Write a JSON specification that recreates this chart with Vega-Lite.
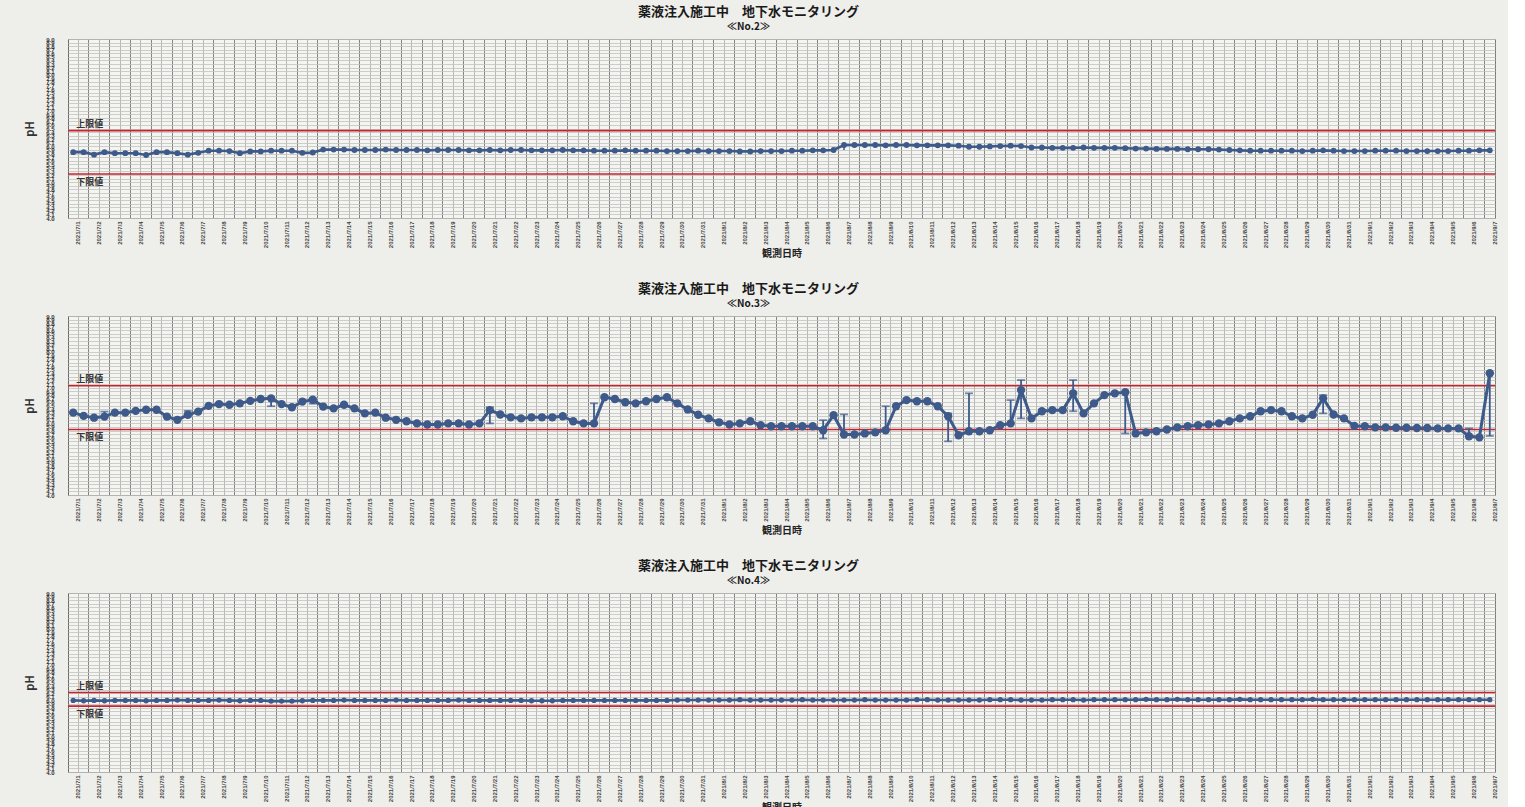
{
"$schema":"https://vega.github.io/schema/vega-lite/v6.json",
"padding":{"left":24,"top":5,"right":10,"bottom":0},
"spacing":22,
"datasets":{
"limits":[
{"p":"No.2","k":"上限値","v":6.44},{"p":"No.2","k":"下限値","v":5.23},
{"p":"No.3","k":"上限値","v":7.05},{"p":"No.3","k":"下限値","v":5.83},
{"p":"No.4","k":"上限値","v":6.22},{"p":"No.4","k":"下限値","v":5.84}],
"obs":[
{"t":"2021/7/1 9:00","a":5.84,"b":6.30,"c":6.00},
{"t":"2021/7/1 15:00","a":5.84,"b":6.21,"c":5.99},
{"t":"2021/7/2 9:00","a":5.77,"b":6.16,"c":6.00},
{"t":"2021/7/2 15:00","a":5.84,"b":6.19,"c":5.99,"bl":6.16,"bh":6.33},
{"t":"2021/7/3 9:00","a":5.81,"b":6.30,"c":6.00},
{"t":"2021/7/3 15:00","a":5.81,"b":6.30,"c":6.00},
{"t":"2021/7/4 9:00","a":5.81,"b":6.35,"c":6.00},
{"t":"2021/7/4 15:00","a":5.76,"b":6.38,"c":5.99},
{"t":"2021/7/5 9:00","a":5.84,"b":6.38,"c":6.00},
{"t":"2021/7/5 15:00","a":5.84,"b":6.19,"c":6.00},
{"t":"2021/7/6 9:00","a":5.81,"b":6.10,"c":6.01},
{"t":"2021/7/6 15:00","a":5.77,"b":6.24,"c":6.00,"bl":6.19,"bh":6.35},
{"t":"2021/7/7 9:00","a":5.82,"b":6.33,"c":6.00},
{"t":"2021/7/7 15:00","a":5.88,"b":6.49,"c":6.00},
{"t":"2021/7/8 9:00","a":5.88,"b":6.54,"c":6.01},
{"t":"2021/7/8 15:00","a":5.87,"b":6.52,"c":6.00},
{"t":"2021/7/9 9:00","a":5.81,"b":6.56,"c":5.99},
{"t":"2021/7/9 15:00","a":5.86,"b":6.63,"c":6.00},
{"t":"2021/7/10 9:00","a":5.86,"b":6.68,"c":6.00},
{"t":"2021/7/10 15:00","a":5.88,"b":6.70,"c":5.98,"bl":6.48,"bh":6.72},
{"t":"2021/7/11 9:00","a":5.88,"b":6.54,"c":5.98},
{"t":"2021/7/11 15:00","a":5.88,"b":6.45,"c":5.98},
{"t":"2021/7/12 9:00","a":5.82,"b":6.61,"c":5.99},
{"t":"2021/7/12 15:00","a":5.83,"b":6.66,"c":6.00,"bl":6.55,"bh":6.70},
{"t":"2021/7/13 9:00","a":5.91,"b":6.47,"c":6.00},
{"t":"2021/7/13 15:00","a":5.91,"b":6.42,"c":6.00},
{"t":"2021/7/14 9:00","a":5.91,"b":6.52,"c":6.01},
{"t":"2021/7/14 15:00","a":5.90,"b":6.42,"c":6.00},
{"t":"2021/7/15 9:00","a":5.90,"b":6.28,"c":6.00},
{"t":"2021/7/15 15:00","a":5.90,"b":6.30,"c":6.00},
{"t":"2021/7/16 9:00","a":5.91,"b":6.16,"c":6.00},
{"t":"2021/7/16 15:00","a":5.90,"b":6.10,"c":6.01},
{"t":"2021/7/17 9:00","a":5.90,"b":6.06,"c":6.00},
{"t":"2021/7/17 15:00","a":5.90,"b":6.00,"c":6.00},
{"t":"2021/7/18 9:00","a":5.89,"b":5.97,"c":6.00},
{"t":"2021/7/18 15:00","a":5.90,"b":5.97,"c":6.00},
{"t":"2021/7/19 9:00","a":5.90,"b":6.00,"c":6.00},
{"t":"2021/7/19 15:00","a":5.90,"b":6.00,"c":6.01},
{"t":"2021/7/20 9:00","a":5.89,"b":5.97,"c":6.00},
{"t":"2021/7/20 15:00","a":5.89,"b":6.00,"c":6.00},
{"t":"2021/7/21 9:00","a":5.90,"b":6.37,"c":6.00,"bl":6.00,"bh":6.45},
{"t":"2021/7/21 15:00","a":5.89,"b":6.25,"c":6.00},
{"t":"2021/7/22 9:00","a":5.90,"b":6.17,"c":6.00},
{"t":"2021/7/22 15:00","a":5.90,"b":6.14,"c":6.00},
{"t":"2021/7/23 9:00","a":5.89,"b":6.17,"c":5.99},
{"t":"2021/7/23 15:00","a":5.89,"b":6.17,"c":5.99},
{"t":"2021/7/24 9:00","a":5.89,"b":6.17,"c":5.99},
{"t":"2021/7/24 15:00","a":5.90,"b":6.20,"c":6.00},
{"t":"2021/7/25 9:00","a":5.89,"b":6.06,"c":6.00},
{"t":"2021/7/25 15:00","a":5.89,"b":6.00,"c":6.00},
{"t":"2021/7/26 9:00","a":5.88,"b":6.00,"c":6.00,"bl":6.00,"bh":6.56},
{"t":"2021/7/26 15:00","a":5.88,"b":6.73,"c":6.00},
{"t":"2021/7/27 9:00","a":5.88,"b":6.68,"c":6.00},
{"t":"2021/7/27 15:00","a":5.89,"b":6.59,"c":6.00},
{"t":"2021/7/28 9:00","a":5.88,"b":6.56,"c":6.00},
{"t":"2021/7/28 15:00","a":5.88,"b":6.62,"c":6.00},
{"t":"2021/7/29 9:00","a":5.88,"b":6.68,"c":6.00},
{"t":"2021/7/29 15:00","a":5.87,"b":6.73,"c":6.00},
{"t":"2021/7/30 9:00","a":5.87,"b":6.56,"c":6.01},
{"t":"2021/7/30 15:00","a":5.87,"b":6.39,"c":6.01},
{"t":"2021/7/31 9:00","a":5.88,"b":6.24,"c":6.01},
{"t":"2021/7/31 15:00","a":5.87,"b":6.14,"c":6.01},
{"t":"2021/8/1 9:00","a":5.87,"b":6.03,"c":6.01},
{"t":"2021/8/1 15:00","a":5.87,"b":5.97,"c":6.01},
{"t":"2021/8/2 9:00","a":5.86,"b":6.00,"c":6.02},
{"t":"2021/8/2 15:00","a":5.86,"b":6.06,"c":6.01},
{"t":"2021/8/3 9:00","a":5.87,"b":5.95,"c":6.01},
{"t":"2021/8/3 15:00","a":5.87,"b":5.92,"c":6.01},
{"t":"2021/8/4 9:00","a":5.87,"b":5.92,"c":6.01},
{"t":"2021/8/4 15:00","a":5.88,"b":5.92,"c":6.01},
{"t":"2021/8/5 9:00","a":5.88,"b":5.92,"c":6.02},
{"t":"2021/8/5 15:00","a":5.89,"b":5.92,"c":6.01},
{"t":"2021/8/6 9:00","a":5.89,"b":5.81,"c":6.01,"bl":5.58,"bh":6.09},
{"t":"2021/8/6 15:00","a":5.90,"b":6.23,"c":6.01},
{"t":"2021/8/7 9:00","a":6.04,"b":5.69,"c":6.01,"al":5.90,"ah":6.04,"bl":5.69,"bh":6.25},
{"t":"2021/8/7 15:00","a":6.04,"b":5.69,"c":6.01},
{"t":"2021/8/8 9:00","a":6.04,"b":5.72,"c":6.02},
{"t":"2021/8/8 15:00","a":6.04,"b":5.75,"c":6.01},
{"t":"2021/8/9 9:00","a":6.03,"b":5.81,"c":6.01,"bl":5.81,"bh":6.48},
{"t":"2021/8/9 15:00","a":6.04,"b":6.48,"c":6.01},
{"t":"2021/8/10 9:00","a":6.04,"b":6.65,"c":6.01},
{"t":"2021/8/10 15:00","a":6.03,"b":6.62,"c":6.02},
{"t":"2021/8/11 9:00","a":6.03,"b":6.62,"c":6.02},
{"t":"2021/8/11 15:00","a":6.03,"b":6.48,"c":6.01},
{"t":"2021/8/12 9:00","a":6.03,"b":6.20,"c":6.01,"bl":5.50,"bh":6.28},
{"t":"2021/8/12 15:00","a":6.02,"b":5.67,"c":6.01},
{"t":"2021/8/13 9:00","a":5.99,"b":5.78,"c":6.01,"bl":5.78,"bh":6.84},
{"t":"2021/8/13 15:00","a":5.99,"b":5.78,"c":6.01},
{"t":"2021/8/14 9:00","a":6.00,"b":5.81,"c":6.02},
{"t":"2021/8/14 15:00","a":6.01,"b":5.95,"c":6.02},
{"t":"2021/8/15 9:00","a":6.02,"b":6.00,"c":6.02,"bl":6.00,"bh":6.65},
{"t":"2021/8/15 15:00","a":6.01,"b":6.93,"c":6.01,"bl":6.14,"bh":7.21},
{"t":"2021/8/16 9:00","a":5.97,"b":6.14,"c":6.01},
{"t":"2021/8/16 15:00","a":5.97,"b":6.34,"c":6.01},
{"t":"2021/8/17 9:00","a":5.96,"b":6.37,"c":6.02},
{"t":"2021/8/17 15:00","a":5.96,"b":6.37,"c":6.02},
{"t":"2021/8/18 9:00","a":5.96,"b":6.84,"c":6.02,"bl":6.34,"bh":7.21},
{"t":"2021/8/18 15:00","a":5.97,"b":6.28,"c":6.01},
{"t":"2021/8/19 9:00","a":5.96,"b":6.56,"c":6.02},
{"t":"2021/8/19 15:00","a":5.96,"b":6.79,"c":6.02},
{"t":"2021/8/20 9:00","a":5.96,"b":6.84,"c":6.02},
{"t":"2021/8/20 15:00","a":5.95,"b":6.87,"c":6.02,"bl":5.72,"bh":6.87},
{"t":"2021/8/21 9:00","a":5.94,"b":5.72,"c":6.02},
{"t":"2021/8/21 15:00","a":5.94,"b":5.75,"c":6.03},
{"t":"2021/8/22 9:00","a":5.93,"b":5.78,"c":6.02},
{"t":"2021/8/22 15:00","a":5.93,"b":5.83,"c":6.02},
{"t":"2021/8/23 9:00","a":5.93,"b":5.89,"c":6.03},
{"t":"2021/8/23 15:00","a":5.92,"b":5.92,"c":6.02},
{"t":"2021/8/24 9:00","a":5.92,"b":5.95,"c":6.02},
{"t":"2021/8/24 15:00","a":5.92,"b":5.97,"c":6.02},
{"t":"2021/8/25 9:00","a":5.91,"b":6.00,"c":6.02},
{"t":"2021/8/25 15:00","a":5.90,"b":6.06,"c":6.02},
{"t":"2021/8/26 9:00","a":5.89,"b":6.14,"c":6.03},
{"t":"2021/8/26 15:00","a":5.88,"b":6.20,"c":6.02},
{"t":"2021/8/27 9:00","a":5.88,"b":6.34,"c":6.02},
{"t":"2021/8/27 15:00","a":5.88,"b":6.37,"c":6.02},
{"t":"2021/8/28 9:00","a":5.88,"b":6.34,"c":6.02},
{"t":"2021/8/28 15:00","a":5.88,"b":6.20,"c":6.02},
{"t":"2021/8/29 9:00","a":5.87,"b":6.14,"c":6.02},
{"t":"2021/8/29 15:00","a":5.88,"b":6.24,"c":6.03},
{"t":"2021/8/30 9:00","a":5.89,"b":6.70,"c":6.02,"bl":6.28,"bh":6.79},
{"t":"2021/8/30 15:00","a":5.88,"b":6.25,"c":6.02},
{"t":"2021/8/31 9:00","a":5.87,"b":6.14,"c":6.02},
{"t":"2021/8/31 15:00","a":5.87,"b":5.93,"c":6.02},
{"t":"2021/9/1 9:00","a":5.87,"b":5.92,"c":6.02},
{"t":"2021/9/1 15:00","a":5.88,"b":5.89,"c":6.02},
{"t":"2021/9/2 9:00","a":5.88,"b":5.89,"c":6.02},
{"t":"2021/9/2 15:00","a":5.88,"b":5.88,"c":6.02},
{"t":"2021/9/3 9:00","a":5.87,"b":5.88,"c":6.02},
{"t":"2021/9/3 15:00","a":5.87,"b":5.87,"c":6.02},
{"t":"2021/9/4 9:00","a":5.87,"b":5.87,"c":6.02},
{"t":"2021/9/4 15:00","a":5.87,"b":5.86,"c":6.02},
{"t":"2021/9/5 9:00","a":5.87,"b":5.86,"c":6.02},
{"t":"2021/9/5 15:00","a":5.88,"b":5.86,"c":6.02},
{"t":"2021/9/6 9:00","a":5.88,"b":5.64,"c":6.02,"bl":5.64,"bh":5.86},
{"t":"2021/9/6 15:00","a":5.89,"b":5.61,"c":6.02},
{"t":"2021/9/7 9:00","a":5.89,"b":7.40,"c":6.02,"bl":5.65,"bh":7.40}
]},
"vconcat":[
{"width":1427,"height":179,"data":{"name":"obs"},
"title":{"text":"薬液注入施工中　地下水モニタリング","subtitle":"≪No.2≫"},
"layer":[
{"data":{"name":"limits"},"transform":[{"filter":"datum.p==='No.2'"}],"mark":{"type":"rule","color":"#c8232c","strokeWidth":1.6},
 "encoding":{"y":{"field":"v","type":"quantitative","title":"pH","scale":{"domain":[4,9]},"axis":{"tickCount":50,"format":".1f"}}}},
{"mark":{"type":"line","color":"#3d5a8a","strokeWidth":2.6,"point":{"filled":true,"size":34,"color":"#3d5a8a"}},
 "encoding":{"x":{"field":"t","type":"ordinal","sort":null,"title":"観測日時","scale":{"type":"band","paddingInner":0,"paddingOuter":0},
   "axis":{"grid":true,"bandPosition":0,"labelOffset":5,"labelAngle":-90,"labelOverlap":false,"ticks":false,"domain":false,
     "gridColor":{"condition":{"test":"indexof(datum.value,' 9:')>=0","value":"#666666"},"value":"#a8a8a8"},
     "labelExpr":"indexof(datum.label,' 9:')>=0 ? slice(datum.label,0,indexof(datum.label,' ')) : ''"}},
  "y":{"field":"a","type":"quantitative","title":"pH"}}},
{"transform":[{"filter":"isValid(datum.al)"}],"mark":{"type":"rule","color":"#3d5a8a","strokeWidth":1.5},
 "encoding":{"x":{"field":"t","type":"ordinal","sort":null},"y":{"field":"al","type":"quantitative","title":"pH"},"y2":{"field":"ah"}}},
{"data":{"name":"limits"},"transform":[{"filter":"datum.p==='No.2' && datum.k==='上限値'"}],"mark":{"type":"text","align":"left","baseline":"bottom","dy":-2,"dx":3,"fontSize":9,"fontWeight":"bold","color":"#333"},
 "encoding":{"x":{"datum":"2021/7/1 9:00","type":"ordinal"},"y":{"field":"v","type":"quantitative","title":"pH"},"text":{"field":"k"}}},
{"data":{"name":"limits"},"transform":[{"filter":"datum.p==='No.2' && datum.k==='下限値'"}],"mark":{"type":"text","align":"left","baseline":"top","dy":4,"dx":3,"fontSize":9,"fontWeight":"bold","color":"#333"},
 "encoding":{"x":{"datum":"2021/7/1 9:00","type":"ordinal"},"y":{"field":"v","type":"quantitative","title":"pH"},"text":{"field":"k"}}}
]},
{"width":1427,"height":179,"data":{"name":"obs"},
"title":{"text":"薬液注入施工中　地下水モニタリング","subtitle":"≪No.3≫"},
"layer":[
{"data":{"name":"limits"},"transform":[{"filter":"datum.p==='No.3'"}],"mark":{"type":"rule","color":"#c8232c","strokeWidth":1.6},
 "encoding":{"y":{"field":"v","type":"quantitative","title":"pH","scale":{"domain":[4,9]},"axis":{"tickCount":50,"format":".1f"}}}},
{"mark":{"type":"line","color":"#3d5a8a","strokeWidth":3,"point":{"filled":true,"size":70,"color":"#3d5a8a"}},
 "encoding":{"x":{"field":"t","type":"ordinal","sort":null,"title":"観測日時","scale":{"type":"band","paddingInner":0,"paddingOuter":0},
   "axis":{"grid":true,"bandPosition":0,"labelOffset":5,"labelAngle":-90,"labelOverlap":false,"ticks":false,"domain":false,
     "gridColor":{"condition":{"test":"indexof(datum.value,' 9:')>=0","value":"#666666"},"value":"#a8a8a8"},
     "labelExpr":"indexof(datum.label,' 9:')>=0 ? slice(datum.label,0,indexof(datum.label,' ')) : ''"}},
  "y":{"field":"b","type":"quantitative","title":"pH"}}},
{"transform":[{"filter":"isValid(datum.bl)"}],"mark":{"type":"rule","color":"#3d5a8a","strokeWidth":1.8},
 "encoding":{"x":{"field":"t","type":"ordinal","sort":null},"y":{"field":"bl","type":"quantitative","title":"pH"},"y2":{"field":"bh"}}},
{"transform":[{"filter":"isValid(datum.bl)"}],"mark":{"type":"tick","color":"#3d5a8a","thickness":1.8,"size":8},
 "encoding":{"x":{"field":"t","type":"ordinal","sort":null},"y":{"field":"bl","type":"quantitative","title":"pH"}}},
{"transform":[{"filter":"isValid(datum.bl)"}],"mark":{"type":"tick","color":"#3d5a8a","thickness":1.8,"size":8},
 "encoding":{"x":{"field":"t","type":"ordinal","sort":null},"y":{"field":"bh","type":"quantitative","title":"pH"}}},
{"data":{"name":"limits"},"transform":[{"filter":"datum.p==='No.3' && datum.k==='上限値'"}],"mark":{"type":"text","align":"left","baseline":"bottom","dy":-2,"dx":3,"fontSize":9,"fontWeight":"bold","color":"#333"},
 "encoding":{"x":{"datum":"2021/7/1 9:00","type":"ordinal"},"y":{"field":"v","type":"quantitative","title":"pH"},"text":{"field":"k"}}},
{"data":{"name":"limits"},"transform":[{"filter":"datum.p==='No.3' && datum.k==='下限値'"}],"mark":{"type":"text","align":"left","baseline":"top","dy":4,"dx":3,"fontSize":9,"fontWeight":"bold","color":"#333"},
 "encoding":{"x":{"datum":"2021/7/1 9:00","type":"ordinal"},"y":{"field":"v","type":"quantitative","title":"pH"},"text":{"field":"k"}}}
]},
{"width":1427,"height":179,"data":{"name":"obs"},
"title":{"text":"薬液注入施工中　地下水モニタリング","subtitle":"≪No.4≫"},
"layer":[
{"data":{"name":"limits"},"transform":[{"filter":"datum.p==='No.4'"}],"mark":{"type":"rule","color":"#c8232c","strokeWidth":1.6},
 "encoding":{"y":{"field":"v","type":"quantitative","title":"pH","scale":{"domain":[4,9]},"axis":{"tickCount":50,"format":".1f"}}}},
{"mark":{"type":"line","color":"#3d5a8a","strokeWidth":2.6,"point":{"filled":true,"size":28,"color":"#3d5a8a"}},
 "encoding":{"x":{"field":"t","type":"ordinal","sort":null,"title":"観測日時","scale":{"type":"band","paddingInner":0,"paddingOuter":0},
   "axis":{"grid":true,"bandPosition":0,"labelOffset":5,"labelAngle":-90,"labelOverlap":false,"ticks":false,"domain":false,
     "gridColor":{"condition":{"test":"indexof(datum.value,' 9:')>=0","value":"#666666"},"value":"#a8a8a8"},
     "labelExpr":"indexof(datum.label,' 9:')>=0 ? slice(datum.label,0,indexof(datum.label,' ')) : ''"}},
  "y":{"field":"c","type":"quantitative","title":"pH"}}},
{"data":{"name":"limits"},"transform":[{"filter":"datum.p==='No.4' && datum.k==='上限値'"}],"mark":{"type":"text","align":"left","baseline":"bottom","dy":-2,"dx":3,"fontSize":9,"fontWeight":"bold","color":"#333"},
 "encoding":{"x":{"datum":"2021/7/1 9:00","type":"ordinal"},"y":{"field":"v","type":"quantitative","title":"pH"},"text":{"field":"k"}}},
{"data":{"name":"limits"},"transform":[{"filter":"datum.p==='No.4' && datum.k==='下限値'"}],"mark":{"type":"text","align":"left","baseline":"top","dy":4,"dx":3,"fontSize":9,"fontWeight":"bold","color":"#333"},
 "encoding":{"x":{"datum":"2021/7/1 9:00","type":"ordinal"},"y":{"field":"v","type":"quantitative","title":"pH"},"text":{"field":"k"}}}
]}
],
"config":{
"background":"#eeeeeb",
"font":"Noto Sans CJK JP",
"view":{"stroke":"#7a7a7a","strokeWidth":1,"fill":"#f4f4f1"},
"title":{"fontSize":13,"fontWeight":"bold","color":"#1a1a1a","subtitleFontSize":10,"subtitleFontWeight":"bold","subtitleColor":"#1a1a1a","subtitlePadding":0,"offset":4,"anchor":"middle","dx":-33},
"axisY":{"gridColor":"#c2c2c2","gridWidth":0.8,"labelFontSize":6,"labelFont":"Liberation Sans","labelFontWeight":"bold","labelColor":"#333","labelOverlap":false,"ticks":false,"domain":false,"labelPadding":14,"titlePadding":10,"titleFontSize":11,"titleFontWeight":"bold","titleColor":"#333","labelFlush":false},
"axisX":{"gridWidth":0.8,"labelFontSize":6,"labelFont":"Liberation Sans","labelFontWeight":"bold","labelColor":"#444","labelPadding":3,"titleFontSize":10,"titleFontWeight":"bold","titleColor":"#222","titlePadding":1}
}
}
